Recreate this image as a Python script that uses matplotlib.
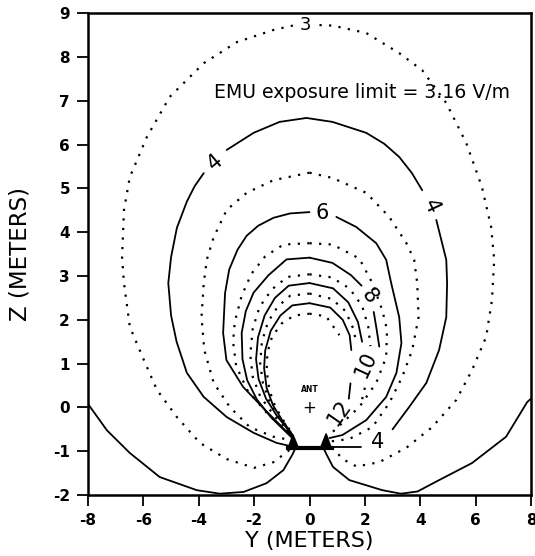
import matplotlib
matplotlib.use("Agg")
import matplotlib.pyplot as plt
import numpy as np

# ---------------- data ----------------
xtick_vals = [-8, -6, -4, -2, 0, 2, 4, 6, 8]
xtick_labels = ["-8", "-6", "-4", "-2", "0", "2", "4", "6", "8"]
ytick_vals = [-2, -1, 0, 1, 2, 3, 4, 5, 6, 7, 8, 9]
ytick_labels = ["-2", "-1", "0", "1", "2", "3", "4", "5", "6", "7", "8", "9"]

# contour polylines (Y, Z) in metres
c3_left = [(-0.6, 8.72), (-1.30, 8.62), (-2.63, 8.34), (-3.82, 7.86), (-5.05, 7.09), (-5.87, 6.18),
           (-6.49, 5.26), (-6.70, 4.51), (-6.77, 3.43), (-6.70, 2.84), (-6.49, 1.84), (-5.98, 1.08),
           (-5.51, 0.40), (-4.79, -0.22), (-3.96, -0.81), (-2.99, -1.18), (-2.0, -1.38), (-1.30, -1.25),
           (-0.72, -0.97)]
c3_right = [(0.36, 8.73), (0.83, 8.72), (2.05, 8.55), (3.24, 8.09), (4.07, 7.70), (4.94, 6.95),
            (5.66, 6.04), (6.23, 5.03), (6.56, 4.12), (6.67, 3.37), (6.59, 2.45), (6.38, 1.61),
            (5.87, 0.85), (5.30, 0.17), (4.43, -0.45), (3.50, -0.92), (2.52, -1.25), (1.70, -1.35),
            (1.20, -1.18), (0.90, -0.97), (0.70, -0.81)]
c4_top = [(-2.99, 5.88), (-2.02, 6.27), (-1.08, 6.52), (-0.11, 6.61), (0.83, 6.52), (2.05, 6.27),
          (2.70, 6.02), (3.24, 5.72), (3.70, 5.35), (4.07, 4.96)]
c4_left = [(-3.82, 5.35), (-4.15, 5.05), (-4.43, 4.70), (-4.79, 4.10), (-5.00, 3.43), (-5.10, 2.84),
           (-5.00, 2.10), (-4.80, 1.50), (-4.43, 0.79), (-3.82, 0.24), (-2.99, -0.22), (-2.02, -0.58),
           (-1.19, -0.81), (-0.58, -0.90)]
c4_right = [(4.58, 4.28), (4.79, 3.75), (4.94, 3.37), (4.97, 2.84), (4.94, 2.06), (4.68, 1.31),
            (4.22, 0.56), (3.60, 0.01), (3.0, -0.50)]
c4_tail = [(1.85, -0.90), (0.61, -0.90)]
c5_left = [(0.0, 5.36), (-1.30, 5.19), (-2.27, 4.90), (-2.99, 4.51), (-3.46, 3.89), (-3.71, 3.37),
           (-3.82, 2.84), (-3.90, 2.06), (-3.80, 1.31), (-3.46, 0.56), (-2.88, 0.01), (-2.16, -0.45),
           (-1.30, -0.67), (-0.72, -0.74)]
c5_right = [(0.0, 5.36), (0.83, 5.24), (2.05, 4.90), (2.88, 4.35), (3.50, 3.75), (3.78, 3.37),
            (3.89, 2.84), (3.94, 2.06), (3.71, 1.31), (3.35, 0.70), (2.88, 0.10), (2.27, -0.45),
            (1.44, -0.72), (0.72, -0.78)]
c6_left = [(0.0, 4.46), (-0.70, 4.43), (-1.30, 4.33), (-1.85, 4.15), (-2.27, 3.92), (-2.60, 3.60),
           (-2.90, 3.15), (-3.05, 2.61), (-3.12, 1.70), (-3.0, 1.08), (-2.40, 0.47), (-1.60, -0.06),
           (-0.88, -0.52), (-0.60, -0.67)]
c6_right = [(0.97, 4.35), (1.69, 4.12), (2.41, 3.75), (2.77, 3.37), (2.95, 2.84), (3.24, 2.06),
            (3.32, 1.47), (3.14, 0.79), (2.77, 0.24), (2.05, -0.29), (1.19, -0.63), (0.72, -0.70)]
c7_left = [(0.0, 3.75), (-0.94, 3.72), (-1.60, 3.45), (-2.10, 3.05), (-2.45, 2.55), (-2.70, 1.95),
           (-2.76, 1.50), (-2.65, 0.95), (-2.25, 0.40), (-1.58, -0.10), (-1.0, -0.45), (-0.65, -0.62)]
c7_right = [(0.0, 3.75), (0.83, 3.72), (1.80, 3.40), (2.27, 2.84), (2.63, 2.22), (2.80, 1.77),
            (2.77, 1.15), (2.41, 0.56), (1.80, 0.01), (1.19, -0.35), (0.72, -0.63)]
c8_left = [(0.0, 3.42), (-0.83, 3.38), (-1.48, 3.02), (-2.02, 2.62), (-2.30, 2.20), (-2.45, 1.70),
           (-2.42, 1.10), (-2.25, 0.62), (-1.90, 0.18), (-1.40, -0.22), (-0.95, -0.50), (-0.62, -0.70)]
c8_right_a = [(0.0, 3.42), (0.83, 3.30), (1.50, 3.02), (1.88, 2.78)]
c8_right_b = [(2.32, 2.18), (2.42, 1.80), (2.52, 1.39)]
c9_left = [(0.0, 3.04), (-0.80, 2.98), (-1.35, 2.70), (-1.80, 2.30), (-2.05, 1.80), (-2.14, 1.20),
           (-2.05, 0.70), (-1.78, 0.25), (-1.32, -0.15), (-0.90, -0.47), (-0.62, -0.68)]
c9_right = [(0.0, 3.04), (0.80, 2.97), (1.44, 2.72), (1.90, 2.32), (2.12, 1.85), (2.20, 1.40)]
c10_left = [(0.0, 2.84), (-0.75, 2.78), (-1.25, 2.50), (-1.62, 2.10), (-1.86, 1.60), (-1.93, 1.10),
            (-1.84, 0.65), (-1.57, 0.20), (-1.17, -0.20), (-0.85, -0.45), (-0.62, -0.66)]
c10_right = [(0.0, 2.84), (0.85, 2.72), (1.40, 2.40), (1.75, 1.95), (1.90, 1.50)]
c11_left = [(0.0, 2.60), (-0.70, 2.55), (-1.15, 2.30), (-1.50, 1.95), (-1.72, 1.50), (-1.78, 1.00),
            (-1.68, 0.55), (-1.42, 0.10), (-1.05, -0.25), (-0.80, -0.45), (-0.62, -0.64)]
c11_right = [(0.0, 2.60), (0.80, 2.48), (1.30, 2.20), (1.58, 1.80), (1.70, 1.45)]
c12_left = [(0.0, 2.38), (-0.62, 2.33), (-1.05, 2.10), (-1.40, 1.75), (-1.60, 1.30), (-1.64, 0.90),
            (-1.55, 0.45), (-1.32, 0.05), (-0.98, -0.30), (-0.62, -0.62)]
c12_right = [(0.0, 2.38), (0.75, 2.28), (1.20, 2.00), (1.45, 1.65), (1.51, 1.31)]
c13_left = [(0.0, 2.14), (-0.55, 2.10), (-1.00, 1.92), (-1.35, 1.62), (-1.52, 1.25), (-1.55, 0.85),
            (-1.45, 0.40), (-1.24, 0.02), (-0.92, -0.32), (-0.62, -0.60)]
c13_right = [(0.0, 2.14), (0.60, 2.08), (1.08, 1.65)]
frag_solid = [(1.48, 0.55), (1.42, 0.20)]
frag_dotted = [(2.00, 0.45), (1.85, 0.05)]
bot_left = [(-8.0, 0.08), (-7.32, -0.52), (-6.49, -1.04), (-5.41, -1.59), (-4.07, -1.89), (-3.24, -1.97),
            (-2.38, -1.93), (-1.55, -1.73), (-0.94, -1.43), (-0.62, -1.08), (-0.50, -0.92)]
bot_right = [(0.50, -0.92), (0.62, -1.08), (0.85, -1.36), (1.44, -1.66), (2.63, -1.89), (3.30, -1.97),
             (3.90, -1.92), (4.68, -1.66), (5.87, -1.27), (7.10, -0.67), (7.86, 0.12), (8.0, 0.20)]
feed_left = [(-0.78, -0.95), (-0.60, -0.62), (-0.38, -0.95)]
feed_right = [(0.38, -0.95), (0.60, -0.60), (0.80, -0.95)]
feed_base = [(-0.78, -0.93), (0.80, -0.93)]

solid_lines = [c4_top, c4_left, c4_right, c4_tail, c6_left, c6_right, c8_left, c8_right_a, c8_right_b,
               c10_left, c10_right, c12_left, c12_right, frag_solid, bot_left, bot_right]
dotted_lines = [c3_left, c3_right, c5_left, c5_right, c7_left, c7_right, c9_left, c9_right,
                c11_left, c11_right, c13_left, c13_right, frag_dotted]

label_texts = ["3", "4", "4", "4", "6", "8", "10", "12"]
label_y = [-0.16, -3.42, 4.40, 2.45, 0.45, 2.16, 2.05, 1.08]
label_z = [8.73, 5.60, 4.58, -0.79, 4.44, 2.53, 0.97, -0.13]
label_rot = [0, 40, -65, 0, 0, -50, 65, 55]

annotation = "EMU exposure limit = 3.16 V/m"

# ---------------- drawing ----------------
fig = plt.figure(figsize=(5.35, 5.56), dpi=100)
ax = fig.add_axes([88 / 535, 1 - 495 / 556, (531 - 88) / 535, (495 - 13.3) / 556])

for seg in solid_lines:
    a = np.array(seg)
    ax.plot(a[:, 0], a[:, 1], color="black", lw=1.3, solid_capstyle="round", solid_joinstyle="round")
for seg in dotted_lines:
    a = np.array(seg)
    ax.plot(a[:, 0], a[:, 1], color="black", lw=1.6, linestyle=(0, (1.0, 3.3)))

for tri in (feed_left, feed_right):
    a = np.array(tri)
    ax.fill(a[:, 0], a[:, 1], color="black", lw=1)
a = np.array(feed_base)
ax.plot(a[:, 0], a[:, 1], color="black", lw=3)

for t, y, z, r in zip(label_texts, label_y, label_z, label_rot):
    ax.text(y, z, t, fontsize=15 if t != "3" else 13, rotation=r, ha="center", va="center",
            family="DejaVu Sans", rotation_mode="anchor")

ax.text(-3.45, 7.2, annotation, fontsize=13.6, ha="left", va="center", family="DejaVu Sans")
ax.text(0.0, 0.42, "ANT", fontsize=5.5, fontweight="bold", ha="center", va="center")
ax.text(0.0, -0.02, "+", fontsize=12, ha="center", va="center")

ax.set_xlim(-8, 8)
ax.set_ylim(-2, 9)
ax.set_xticks(xtick_vals)
ax.set_xticklabels(xtick_labels)
ax.set_yticks(ytick_vals)
ax.set_yticklabels(ytick_labels)
ax.tick_params(direction="out", length=8, width=1.3, labelsize=11, pad=5)
for lab in ax.get_xticklabels() + ax.get_yticklabels():
    lab.set_fontweight("bold")
for sp in ax.spines.values():
    sp.set_linewidth(1.8)

ax.set_xlabel("Y (METERS)", fontsize=16, labelpad=2)
ax.set_ylabel("Z (METERS)", fontsize=16.5, labelpad=15)

fig.savefig("out.png", dpi=100)
